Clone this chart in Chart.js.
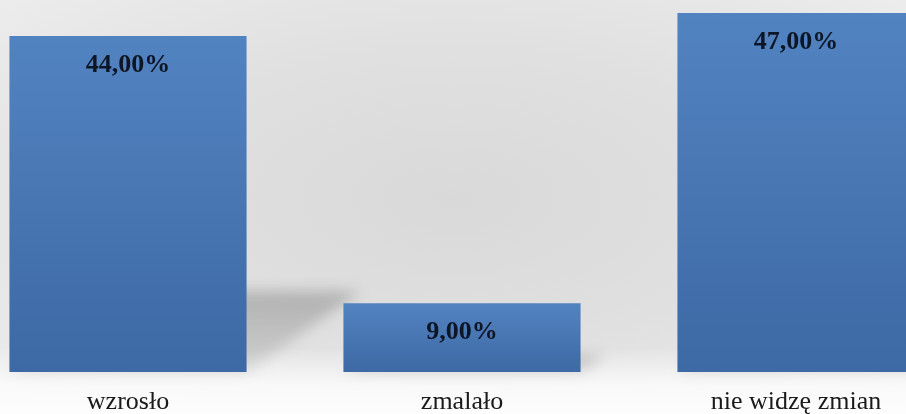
<!DOCTYPE html>
<html>
<head>
<meta charset="utf-8">
<script src="https://cdn.jsdelivr.net/npm/chart.js@4"></script>
<style>
  html, body { margin: 0; padding: 0; width: 906px; height: 414px; overflow: hidden; }
  body {
    position: relative;
    background:
      linear-gradient(to bottom, rgba(255,255,255,0) 84%, rgba(252,252,252,0.85) 93%, #fdfdfd 100%),
      radial-gradient(ellipse 75% 80% at 50% 48%, #d9d9d9 0%, #e0e0e0 45%, #efefef 100%);
  }
  /* El área del gráfico se sale de la ventana: la tercera barra queda cortada. */
  #marco { position: absolute; left: -39px; top: 0; width: 1002px; height: 414px; }
</style>
</head>
<body>
<div id="marco"><canvas id="grafico"></canvas></div>
<script>
const categorias = ['wzrosło', 'zmalało', 'nie widzę zmian'];
const valores = [44, 9, 47];
const etiquetas = ['44,00%', '9,00%', '47,00%'];

const FUENTE = '"Liberation Serif", "Times New Roman", serif';

// Sombra en perspectiva detrás de cada barra, inclinada hacia la derecha.
const sombra = {
  id: 'sombra',
  beforeDatasetsDraw(chart) {
    const ctx = chart.ctx;
    chart.getDatasetMeta(0).data.forEach((b) => {
      const izq = b.x - b.width / 2, der = b.x + b.width / 2;
      const h = b.base - b.y;
      const dx = h * 0.34, dy = h * 0.24;
      ctx.save();
      ctx.filter = 'blur(7px)';
      const g = ctx.createLinearGradient(0, b.base, 0, b.base - dy);
      g.addColorStop(0, 'rgba(70,70,70,0.12)');
      g.addColorStop(1, 'rgba(70,70,70,0.30)');
      ctx.fillStyle = g;
      ctx.beginPath();
      ctx.moveTo(izq, b.base);
      ctx.lineTo(der, b.base);
      ctx.lineTo(der + dx, b.base - dy);
      ctx.lineTo(izq + dx, b.base - dy);
      ctx.closePath();
      ctx.fill();
      ctx.restore();
    });
  }
};

// Etiquetas de valor dentro de cada barra, cerca del borde superior.
const rotulos = {
  id: 'rotulos',
  afterDatasetsDraw(chart) {
    const ctx = chart.ctx;
    ctx.save();
    ctx.font = 'bold 26px ' + FUENTE;
    ctx.fillStyle = '#0d1626';
    ctx.textAlign = 'center';
    ctx.textBaseline = 'alphabetic';
    chart.getDatasetMeta(0).data.forEach((b, i) => {
      ctx.fillText(etiquetas[i], b.x, b.y + 36);
    });
    ctx.restore();
  }
};

const degradado = (c) => {
  const chart = c.chart;
  const y = chart.scales.y;
  if (!y || c.dataIndex == null) return '#4a7bb7';
  const arriba = y.getPixelForValue(valores[c.dataIndex]);
  const abajo = y.getPixelForValue(0);
  if (!isFinite(arriba) || !isFinite(abajo)) return '#4a7bb7';
  const g = chart.ctx.createLinearGradient(0, arriba, 0, abajo);
  g.addColorStop(0, '#5283c1');
  g.addColorStop(1, '#3d69a4');
  return g;
};

new Chart(document.getElementById('grafico'), {
  type: 'bar',
  data: {
    labels: categorias,
    datasets: [{
      data: valores,
      backgroundColor: degradado,
      borderWidth: 0,
      categoryPercentage: 1,
      barPercentage: 0.71,
    }]
  },
  options: {
    responsive: true,
    maintainAspectRatio: false,
    animation: false,
    layout: { padding: 0 },
    plugins: { legend: { display: false }, tooltip: { enabled: false } },
    scales: {
      x: {
        grid: { display: false },
        border: { display: false },
        ticks: { color: '#1a1a1a', padding: 7, font: { family: FUENTE, size: 26 } },
        afterFit(ax) { ax.height = 42; }
      },
      y: { display: false, min: 0, max: 48.7 }
    }
  },
  plugins: [sombra, rotulos]
});
</script>
</body>
</html>
